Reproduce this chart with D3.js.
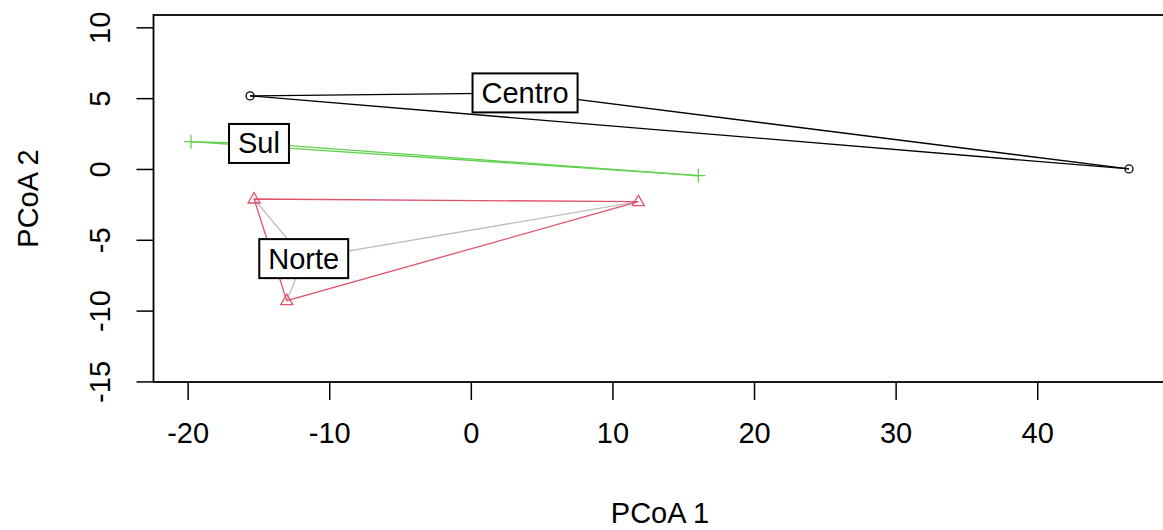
<!DOCTYPE html>
<html><head><meta charset="utf-8">
<script src="https://cdn.jsdelivr.net/npm/d3@7"></script>
<style>body{margin:0;background:#fff}text{font-family:"Liberation Sans",Arial,sans-serif}</style>
</head><body><svg id="c" width="1163" height="530"></svg>
<script>
const groups = ["Centro","Sul","Norte"];
const colors = ["#000000","#61D04F","#DF536B"];
const segColors = ["#000000","#61D04F","#BEBEBE"];
const symbols = ["circle","plus","triangle"];
const centroX = [-15.59, 46.48];
const centroY = [5.16, 0.0];
const sulX = [-19.76, 16.07];
const sulY = [1.93, -0.47];
const norteX = [-15.31, 11.83, -13.0];
const norteY = [-2.12, -2.31, -9.30];
const centroidX = [3.83, -14.96, -11.8];
const centroidY = [5.37, 1.8, -6.33];
const xTicks = [-20,-10,0,10,20,30,40];
const yTicks = [-15,-10,-5,0,5,10];
const xLabel = "PCoA 1", yLabel = "PCoA 2";

const pts = [
  centroX.map((x,i)=>[x,centroY[i]]),
  sulX.map((x,i)=>[x,sulY[i]]),
  norteX.map((x,i)=>[x,norteY[i]])
];

const svg = d3.select("#c");
const L=153.5, R=1166.5, T=15, B=382;
const x = d3.scaleLinear().domain([-22.41,49.13]).range([L,R]);
const y = d3.scaleLinear().domain([-15.04,10.87]).range([B,T]);
const fs = 29;
const fmt = d => String(d);

const plot = svg.append("g");
pts.forEach((p,g)=>{
  p.forEach(d=>{
    plot.append("line").attr("x1",x(d[0])).attr("y1",y(d[1]))
      .attr("x2",x(centroidX[g])).attr("y2",y(centroidY[g]))
      .attr("stroke",segColors[g]).attr("stroke-width",1.3);
  });
});
pts.forEach((p,g)=>{
  const h = p.length>2 ? d3.polygonHull(p) : p;
  plot.append("path").attr("d", d3.line().x(d=>x(d[0])).y(d=>y(d[1]))(h) + (p.length>2?"Z":""))
    .attr("fill","none").attr("stroke",colors[g]).attr("stroke-width",1.3);
});
pts.forEach((p,g)=>{
  p.forEach(d=>{
    const cx=x(d[0]), cy=y(d[1]);
    if(symbols[g]==="circle"){
      plot.append("circle").attr("cx",cx).attr("cy",cy).attr("r",4)
        .attr("fill","none").attr("stroke",colors[g]).attr("stroke-width",1.3);
    } else if(symbols[g]==="plus"){
      plot.append("path").attr("d",`M${cx-7},${cy}H${cx+7}M${cx},${cy-7}V${cy+7}`)
        .attr("stroke",colors[g]).attr("stroke-width",1.3);
    } else {
      plot.append("path").attr("d",`M${cx},${cy-6.5}L${cx+6},${cy+4}L${cx-6},${cy+4}Z`)
        .attr("fill","none").attr("stroke",colors[g]).attr("stroke-width",1.3);
    }
  });
});
groups.forEach((name,g)=>{
  const cx=x(centroidX[g]), cy=y(centroidY[g]);
  const t = svg.append("text").attr("x",cx).attr("y",cy).attr("text-anchor","middle")
    .attr("dominant-baseline","central").attr("font-size",fs).attr("fill","#000").text(name);
  const w = t.node().getComputedTextLength();
  svg.insert("rect", function(){return t.node();})
    .attr("x",cx-w/2-9).attr("y",cy-19.5).attr("width",w+18).attr("height",39)
    .attr("fill","#fff").attr("stroke","#000").attr("stroke-width",2);
});
svg.append("rect").attr("x",L).attr("y",T).attr("width",R-L).attr("height",B-T)
  .attr("fill","none").attr("stroke","#000").attr("stroke-width",1.8);
const xa = svg.append("g").attr("transform",`translate(0,${B})`)
  .call(d3.axisBottom(x).tickValues(xTicks).tickFormat(fmt).tickSize(18).tickSizeOuter(0).tickPadding(22));
xa.select(".domain").remove();
xa.selectAll("line").attr("stroke-width",1.5);
xa.selectAll("text").attr("font-size",fs).attr("font-family","Liberation Sans, Arial, sans-serif").attr("fill","#000");
const ya = svg.append("g").attr("transform",`translate(${L},0)`)
  .call(d3.axisLeft(y).tickValues(yTicks).tickFormat(fmt).tickSize(17).tickSizeOuter(0));
ya.select(".domain").remove();
ya.selectAll("line").attr("stroke-width",1.5);
ya.selectAll("text").remove();
ya.selectAll(".tick").append("text").attr("transform","translate(-54,0) rotate(-90)")
  .attr("text-anchor","middle").attr("dominant-baseline","central")
  .attr("font-size",fs).attr("fill","#000").text(fmt);
svg.append("text").attr("x",(L+R)/2).attr("y",513).attr("text-anchor","middle")
  .attr("dominant-baseline","central").attr("font-size",fs).text(xLabel);
svg.append("text").attr("transform",`translate(28,${(B+T)/2}) rotate(-90)`).attr("text-anchor","middle")
  .attr("dominant-baseline","central").attr("font-size",fs).text(yLabel);
</script></body></html>
